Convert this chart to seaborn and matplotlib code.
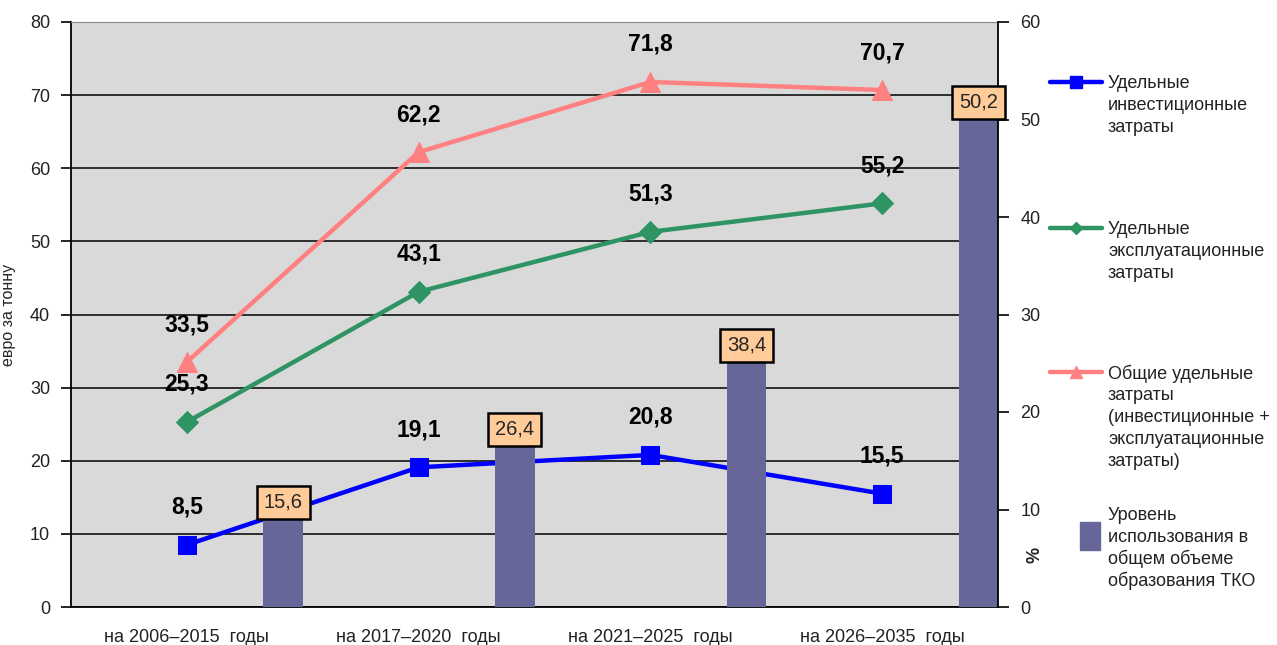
import numpy as np
import pandas as pd
import matplotlib.pyplot as plt
import seaborn as sns
from matplotlib.lines import Line2D
from matplotlib.patches import Rectangle

# data
periods = ['на 2006–2015  годы', 'на 2017–2020  годы', 'на 2021–2025  годы', 'на 2026–2035  годы']
invest = [8.5, 19.1, 20.8, 15.5]
operating = [25.3, 43.1, 51.3, 55.2]
total = [33.5, 62.2, 71.8, 70.7]
usage_pct = [9.2, 16.7, 25.3, 50.2]          # bar heights as drawn (right axis)
usage_labels = ['15,6', '26,4', '38,4', '50,2']  # labels printed in the boxes

series_names = ['Удельные\nинвестиционные\nзатраты',
                'Удельные\nэксплуатационные\nзатраты',
                'Общие удельные\nзатраты\n(инвестиционные +\nэксплуатационные\nзатраты)']
bar_name = 'Уровень\nиспользования в\nобщем объеме\nобразования ТКО'

sns.set_style('white')
plt.rcParams['font.family'] = ['Liberation Sans', 'DejaVu Sans']

BLUE, GREEN, PINK, BAR = '#0000FF', '#2E9463', '#FF8080', '#666699'

df = pd.DataFrame({'idx': np.arange(len(periods)), 'invest': invest,
                   'operating': operating, 'total': total})

fig = plt.figure(figsize=(12.77, 6.45), dpi=100)
ax = fig.add_axes([71 / 1277, 1 - 607 / 645, (998 - 71) / 1277, (607 - 22) / 645])
ax.set_facecolor('#D9D9D9')

styles = [('invest', BLUE, 's', 13), ('operating', GREEN, 'D', 11), ('total', PINK, '^', 14)]
for col, color, mk, ms in styles:
    sns.lineplot(data=df, x='idx', y=col, ax=ax, color=color, lw=3.2, marker=mk,
                 markersize=ms, markeredgecolor=color, zorder=3)
    for i, v in zip(df['idx'], df[col]):
        ax.annotate(f'{v:.1f}'.replace('.', ','), (i, v), xytext=(0, 27),
                    textcoords='offset points', ha='center', va='center',
                    fontsize=16.5, fontweight='bold', color='black', zorder=5)

ax.set_xlim(-0.5, len(periods) - 0.5)
ax.set_ylim(0, 80)
ax.set_yticks(range(0, 81, 10))
ax.set_xticks(range(len(periods)))
ax.set_xticklabels(periods, fontsize=13, color='#222222')
ax.set_xticks(np.arange(-0.5, len(periods), 1), minor=True)
ax.tick_params(axis='x', which='major', length=0, pad=16)
ax.tick_params(axis='x', which='minor', length=8, width=1.2, color='black', direction='out')
ax.tick_params(axis='y', length=7, width=1.2, color='black', labelsize=13,
               labelcolor='#222222', direction='out', pad=8)
ax.yaxis.grid(True, color='black', lw=1.1)
ax.set_axisbelow(True)
ax.set_xlabel('')
ax.set_ylabel('евро за тонну', fontsize=11.5, labelpad=10)
for s in ['left', 'bottom']:
    ax.spines[s].set_color('black')
    ax.spines[s].set_linewidth(1.3)
ax.spines['top'].set_color('#888888')
ax.spines['right'].set_visible(False)

# bars on the secondary axis, shifted to the right side of each category
ax2 = ax.twinx()
ax2.set_ylim(0, 60)
bar_x = df['idx'] + 0.415
ax2.bar(bar_x, usage_pct, width=0.17, color=BAR, linewidth=0, zorder=2)
last = len(usage_pct) - 1
for k, (x, h, lab) in enumerate(zip(bar_x, usage_pct, usage_labels)):
    ha, xx = ('right', x + 0.085) if k == last else ('center', x)
    ax2.annotate(lab, (xx, h), xytext=(0, 4), textcoords='offset points', ha=ha,
                 va='bottom', fontsize=14.5, zorder=6,
                 bbox=dict(boxstyle='square,pad=0.35', fc='#FFCC99', ec='black', lw=1.8))
ax2.set_yticks(range(0, 61, 10))
ax2.tick_params(axis='y', length=8, width=1.2, color='black', labelsize=13,
                labelcolor='#222222', direction='out', pad=8)
for s in ['left', 'top', 'bottom']:
    ax2.spines[s].set_visible(False)
ax2.spines['right'].set_color('black')
ax2.spines['right'].set_linewidth(1.3)
ax2.set_ylabel('')
fig.text(1035 / 1277, 1 - 555 / 645, '%', rotation=90, fontsize=13, fontweight='bold',
         ha='center', va='center')

# hand-built legend in pixel space on the right
leg = fig.add_axes([0, 0, 1, 1], facecolor='none')
leg.set_xlim(0, 1277)
leg.set_ylim(645, 0)
leg.axis('off')
entries = [(BLUE, 's', 8, 82), (GREEN, 'D', 6, 228), (PINK, '^', 9, 372)]
for (color, mk, ms, y0), name in zip(entries, series_names):
    leg.add_line(Line2D([1050, 1102], [y0, y0], color=color, lw=3.2))
    leg.add_line(Line2D([1076], [y0], color=color, marker=mk, markersize=ms, lw=0))
    for j, line in enumerate(name.split('\n')):
        leg.text(1108, y0 + 2 + 22 * j, line, fontsize=13, va='center', ha='left',
                 color='#222222')
leg.add_patch(Rectangle((1080, 522), 20, 28, color=BAR))
for j, line in enumerate(bar_name.split('\n')):
    leg.text(1108, 515 + 22 * j, line, fontsize=13, va='center', ha='left', color='#222222')

fig.savefig('out.png', dpi=100)
